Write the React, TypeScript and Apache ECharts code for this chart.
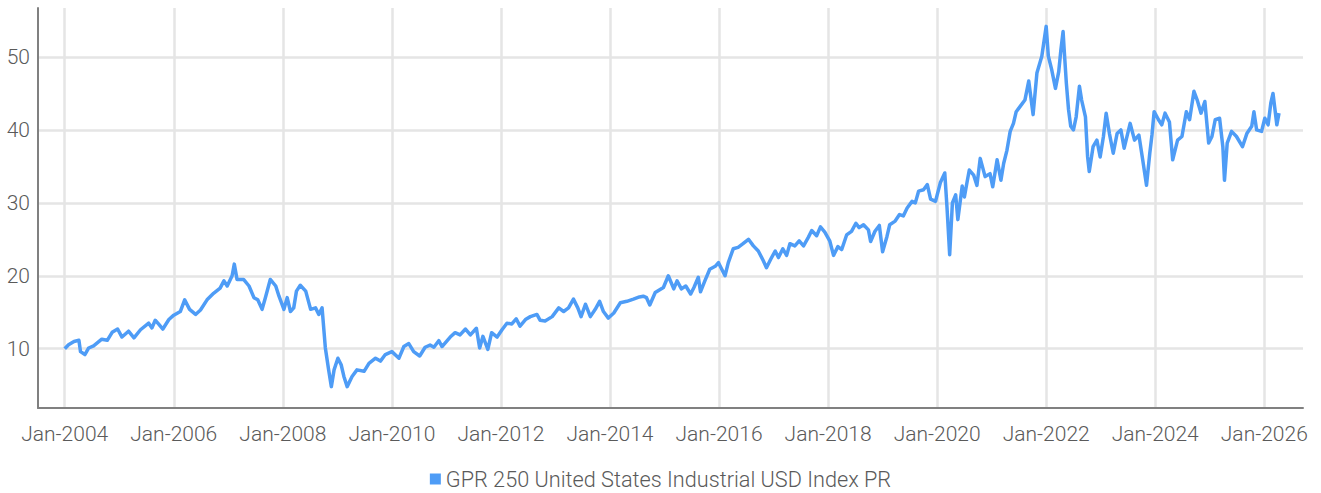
import React, { useEffect, useRef } from "react";
import * as echarts from "echarts";

// Decimal-year dates
const dates: number[] = [
  2004.00, 2004.07, 2004.17, 2004.26, 2004.29, 2004.37, 2004.44, 2004.53, 2004.68, 2004.78, 2004.87, 2004.97,
  2005.05, 2005.17, 2005.27, 2005.39, 2005.54, 2005.60, 2005.66, 2005.72, 2005.80, 2005.91,
  2006.00, 2006.12, 2006.20, 2006.29, 2006.40, 2006.49, 2006.61, 2006.73, 2006.85, 2006.92, 2006.98,
  2007.07, 2007.11, 2007.16, 2007.28, 2007.38, 2007.47, 2007.54, 2007.62, 2007.68, 2007.77, 2007.87, 2007.93,
  2008.02, 2008.08, 2008.14, 2008.20, 2008.25, 2008.32, 2008.42, 2008.51, 2008.60, 2008.66, 2008.72, 2008.78, 2008.84, 2008.89, 2008.94,
  2009.01, 2009.07, 2009.12, 2009.18, 2009.27, 2009.36, 2009.49, 2009.58, 2009.70, 2009.79, 2009.88,
  2010.00, 2010.13, 2010.22, 2010.31, 2010.40, 2010.51, 2010.61, 2010.70, 2010.77, 2010.86, 2010.92,
  2011.07, 2011.16, 2011.25, 2011.35, 2011.44, 2011.55, 2011.61, 2011.67, 2011.76, 2011.83, 2011.93,
  2012.02, 2012.11, 2012.20, 2012.28, 2012.35, 2012.45, 2012.54, 2012.66, 2012.72, 2012.81, 2012.94,
  2013.06, 2013.15, 2013.24, 2013.33, 2013.41, 2013.47, 2013.55, 2013.64, 2013.73, 2013.81, 2013.88, 2013.97,
  2014.07, 2014.19, 2014.31, 2014.43, 2014.54, 2014.61, 2014.67, 2014.73, 2014.83, 2014.98,
  2015.07, 2015.17, 2015.23, 2015.31, 2015.39, 2015.48, 2015.54, 2015.62, 2015.66, 2015.74, 2015.83, 2015.93, 2015.99,
  2016.05, 2016.11, 2016.17, 2016.26, 2016.35, 2016.44, 2016.54, 2016.63, 2016.72, 2016.81, 2016.87, 2016.95,
  2017.03, 2017.09, 2017.17, 2017.24, 2017.30, 2017.39, 2017.47, 2017.55, 2017.64, 2017.70, 2017.79, 2017.86, 2017.94,
  2018.03, 2018.10, 2018.18, 2018.25, 2018.34, 2018.43, 2018.51, 2018.57, 2018.65, 2018.74, 2018.78, 2018.86, 2018.94,
  2019.00, 2019.08, 2019.13, 2019.23, 2019.31, 2019.38, 2019.45, 2019.54, 2019.60, 2019.66, 2019.75, 2019.82, 2019.88, 2019.97,
  2020.06, 2020.14, 2020.18, 2020.23, 2020.28, 2020.34, 2020.38, 2020.46, 2020.50, 2020.55, 2020.59, 2020.67, 2020.73, 2020.79, 2020.88, 2020.97,
  2021.02, 2021.10, 2021.17, 2021.22, 2021.28, 2021.34, 2021.40, 2021.45, 2021.52, 2021.61, 2021.68, 2021.76, 2021.83, 2021.92,
  2022.00, 2022.04, 2022.10, 2022.17, 2022.23, 2022.27, 2022.31, 2022.33, 2022.37, 2022.41, 2022.45, 2022.50, 2022.55, 2022.61, 2022.65, 2022.72, 2022.76, 2022.79, 2022.86, 2022.93, 2022.99,
  2023.05, 2023.10, 2023.16, 2023.23, 2023.30, 2023.37, 2023.43, 2023.54, 2023.62, 2023.70, 2023.77, 2023.84, 2023.90, 2023.94, 2023.98,
  2024.06, 2024.12, 2024.18, 2024.26, 2024.32, 2024.41, 2024.49, 2024.57, 2024.63, 2024.71, 2024.77, 2024.84, 2024.91, 2024.98,
  2025.04, 2025.10, 2025.18, 2025.24, 2025.27, 2025.32, 2025.40, 2025.49, 2025.60, 2025.68, 2025.77, 2025.81, 2025.86, 2025.95,
  2026.01, 2026.07, 2026.12, 2026.16, 2026.23, 2026.27,
];

const values: number[] = [
  10.0, 10.55, 11.0, 11.15, 9.6, 9.2, 10.1, 10.4, 11.3, 11.15, 12.25, 12.7,
  11.6, 12.4, 11.5, 12.6, 13.5, 12.85, 13.9, 13.4, 12.7, 14.0,
  14.6, 15.1, 16.7, 15.4, 14.7, 15.3, 16.7, 17.6, 18.3, 19.3, 18.6,
  20.0, 21.6, 19.5, 19.5, 18.6, 17.0, 16.7, 15.4, 17.0, 19.5, 18.6, 17.2,
  15.4, 17.0, 15.1, 15.6, 17.9, 18.7, 17.9, 15.4, 15.6, 14.7, 15.6, 10.1, 7.1, 4.8, 7.1,
  8.7, 7.8, 6.2, 4.8, 6.2, 7.1, 6.9, 8.0, 8.7, 8.3, 9.2,
  9.6, 8.7, 10.3, 10.7, 9.6, 9.0, 10.2, 10.5, 10.2, 11.1, 10.3,
  11.6, 12.2, 11.9, 12.7, 11.9, 12.8, 10.1, 11.7, 9.9, 12.2, 11.6,
  12.6, 13.5, 13.4, 14.1, 13.1, 14.0, 14.4, 14.7, 13.9, 13.8, 14.4,
  15.6, 15.1, 15.6, 16.8, 15.6, 14.4, 16.1, 14.4, 15.4, 16.5, 15.1, 14.2,
  14.9, 16.3, 16.5, 16.8, 17.1, 17.2, 17.0, 16.0, 17.7, 18.4,
  20.0, 18.2, 19.3, 18.2, 18.6, 17.5, 18.4, 19.8, 17.8, 19.3, 20.9, 21.3, 21.8,
  20.9, 20.0, 21.8, 23.7, 23.9, 24.4, 25.0, 24.1, 23.4, 22.1, 21.1, 22.3,
  23.4, 22.5, 23.7, 22.8, 24.4, 24.1, 24.8, 24.1, 25.3, 26.2, 25.5, 26.7, 26.0,
  24.8, 22.8, 24.0, 23.6, 25.6, 26.1, 27.2, 26.6, 27.0, 26.3, 24.7, 26.1, 26.9,
  23.3, 25.4, 27.0, 27.5, 28.4, 28.2, 29.3, 30.2, 30.0, 31.6, 31.8, 32.5, 30.5, 30.2,
  32.8, 34.1, 29.5, 22.9, 30.0, 31.1, 27.7, 32.3, 30.8, 32.9, 34.5, 33.8, 32.4, 36.1, 33.6, 34.0,
  32.2, 35.9, 33.1, 35.4, 37.2, 39.8, 40.9, 42.5, 43.2, 44.1, 46.7, 42.1, 47.8, 50.1,
  54.2, 50.1, 48.3, 45.7, 48.0, 51.0, 53.5, 51.0, 46.4, 42.8, 40.5, 40.0, 41.8, 46.0, 44.1, 41.8, 36.3, 34.3, 37.7, 38.6, 36.3,
  39.1, 42.3, 39.5, 36.8, 39.5, 40.0, 37.5, 40.9, 38.6, 39.3, 35.9, 32.4, 36.8, 39.3, 42.5,
  41.4, 40.7, 42.3, 41.1, 35.9, 38.6, 39.1, 42.5, 41.4, 45.3, 44.1, 42.3, 43.9, 38.2,
  39.1, 41.4, 41.6, 37.7, 33.1, 38.2, 39.8, 39.1, 37.7, 39.5, 40.5, 42.5, 40.0, 39.8,
  41.6, 40.7, 43.7, 45.0, 40.7, 42.3,
];

const seriesName = "GPR 250 United States Industrial USD Index PR";
const FONT = "Roboto, sans-serif";
const TEXT_COLOR = "#5a5a5a";
const LINE_COLOR = "#4E9CF6";

export default function App() {
  const ref = useRef<HTMLDivElement>(null);
  useEffect(() => {
    if (!ref.current) return;
    const chart = echarts.init(ref.current, undefined, { renderer: "svg" });
    const data = dates.map((d, i) => [d, values[i]]);
    chart.setOption({
      animation: false,
      backgroundColor: "#ffffff",
      textStyle: { fontFamily: FONT },
      grid: { left: 38, right: 18, top: 8, bottom: 85, containLabel: false },
      legend: {
        data: [seriesName],
        top: 463,
        left: "center",
        icon: "rect",
        itemWidth: 11,
        itemHeight: 11,
        textStyle: { fontFamily: FONT, fontSize: 21.7, fontWeight: 300, color: TEXT_COLOR },
      },
      xAxis: {
        type: "value",
        min: 2003.51,
        max: 2026.71,
        splitNumber: 11,
        axisLine: { show: true, lineStyle: { color: "#808080", width: 2 } },
        axisTick: { show: false },
        axisLabel: {
          showMinLabel: false,
          showMaxLabel: false,
          margin: 15,
          fontFamily: FONT,
          fontSize: 21,
          fontWeight: 300,
          color: TEXT_COLOR,
          formatter: (v: number) => "Jan-" + Math.round(v),
        },
        splitLine: {
          show: true,
          showMinLine: false,
          showMaxLine: false,
          lineStyle: { color: "#e5e5e5", width: 2.5 },
        },
      },
      yAxis: {
        type: "value",
        min: 1.87,
        max: 56.72,
        splitNumber: 5,
        axisLine: { show: true, lineStyle: { color: "#808080", width: 2 } },
        axisTick: { show: false },
        axisLabel: {
          showMinLabel: false,
          showMaxLabel: false,
          margin: 8,
          fontFamily: FONT,
          fontSize: 21,
          fontWeight: 300,
          color: TEXT_COLOR,
        },
        splitLine: {
          show: true,
          showMinLine: false,
          showMaxLine: false,
          lineStyle: { color: "#e5e5e5", width: 2.5 },
        },
      },
      series: [
        {
          name: seriesName,
          type: "line",
          data,
          showSymbol: false,
          symbol: "none",
          color: LINE_COLOR,
          lineStyle: { color: LINE_COLOR, width: 3.5, join: "round" },
        },
      ],
    });
    return () => chart.dispose();
  }, []);
  return (
    <div
      ref={ref}
      style={{ position: "fixed", left: 0, top: 0, width: 1321, height: 493 }}
    />
  );
}
